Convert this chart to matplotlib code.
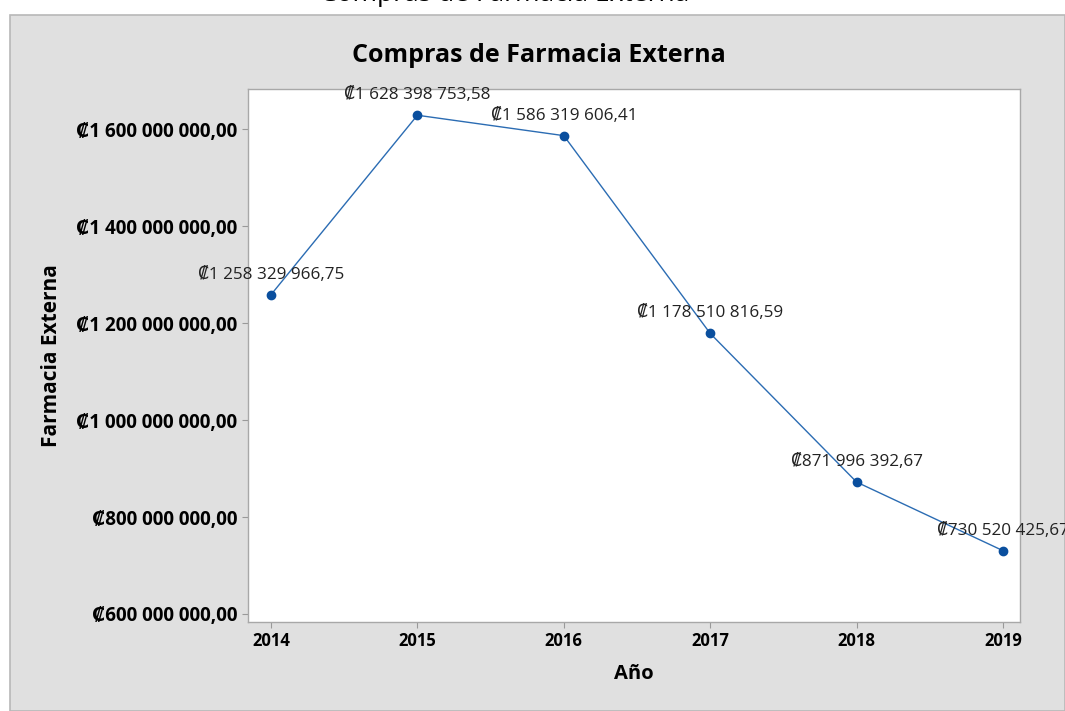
import matplotlib.pyplot as plt
from matplotlib.patches import Rectangle
from matplotlib.ticker import FuncFormatter

years = [2014, 2015, 2016, 2017, 2018, 2019]
compras = [1258329966.75, 1628398753.58, 1586319606.41,
           1178510816.59, 871996392.67, 730520425.67]
y_ticks = [600e6, 800e6, 1000e6, 1200e6, 1400e6, 1600e6]

FONT = ['Open Sans', 'DejaVu Sans']
plt.rcParams['font.family'] = FONT


def colones(v, pos=None):
    s = f'{v:,.2f}'                     # 1,600,000,000.00
    s = s.replace(',', ' ').replace('.', ',')
    return '\u20a1' + s


fig = plt.figure(figsize=(10.65, 7.11), dpi=100)
fig.patch.set_facecolor('white')

# panel gris detras del grafico
fig.patches.append(Rectangle((10 / 1065, 0), 1 - 10 / 1065, 1 - 15 / 711,
                             transform=fig.transFigure, facecolor='#e0e0e0',
                             edgecolor='#b8b8b8', linewidth=1.2, zorder=-5))

# titulo cortado arriba (solo se ve la parte de abajo)
fig.text(505 / 1065, 1 - 1.1 / 711, 'Compras de Farmacia Externa', fontsize=19,
         ha='center', va='baseline', color='black')

ax = fig.add_axes([248 / 1065, 1 - 622 / 711, 772 / 1065, 533 / 711])
ax.set_zorder(2)
ax.set_facecolor('white')

ax.plot(years, compras, color='#2b6cb3', linewidth=1.0, marker='o',
        markersize=6, markerfacecolor='#0a4f9e', markeredgecolor='#0a4f9e')

for x, y in zip(years, compras):
    ax.annotate(colones(y), (x, y), xytext=(0, 14.5), textcoords='offset points',
                ha='center', va='center', fontsize=12.3, color='#222222',
                annotation_clip=False)

ax.set_xlim(2013.843, 2019.116)
ax.set_ylim(583.5e6, 1682.5e6)
ax.set_xticks(years)
ax.set_yticks(y_ticks)
ax.yaxis.set_major_formatter(FuncFormatter(colones))

for lbl in ax.get_xticklabels():
    lbl.set_fontweight('bold')
    lbl.set_fontsize(12)
for lbl in ax.get_yticklabels():
    lbl.set_fontweight('bold')
    lbl.set_fontsize(13.6)

ax.tick_params(colors='#999999', labelcolor='black', length=4, width=0.8)
for sp in ax.spines.values():
    sp.set_color('#a8a8a8')
    sp.set_linewidth(1.0)

fig.text(539 / 1065, 1 - 55 / 711, 'Compras de Farmacia Externa', fontsize=18,
         fontweight='bold', ha='center', va='center')
ax.set_xlabel('Año', fontsize=14.5, fontweight='bold', labelpad=10)
ax.set_ylabel('Farmacia Externa', fontsize=15, fontweight='bold', labelpad=10)

fig.savefig('out.png', dpi=100)
